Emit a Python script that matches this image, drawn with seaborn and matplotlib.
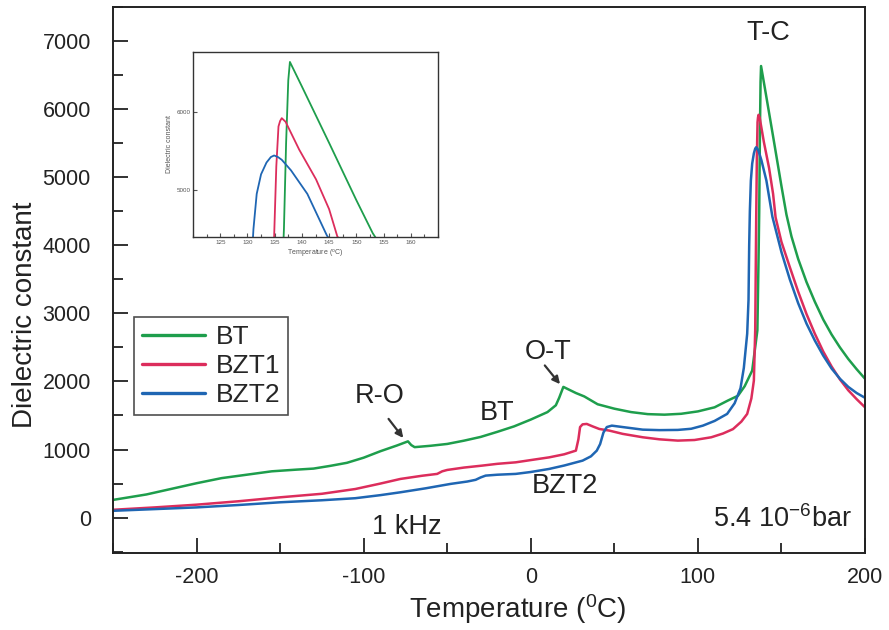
import numpy as np
import pandas as pd
import matplotlib
matplotlib.use("Agg")
import matplotlib.pyplot as plt
from matplotlib.ticker import MultipleLocator
import seaborn as sns

# Temperature sweeps (deg C) and dielectric constant at 1 kHz
bt_temp = [-250, -230, -210, -200, -185, -170, -155, -140, -130, -120,
           -110, -100, -90, -80, -73.5, -71.5, -69.5, -60, -50, -40,
           -30, -20, -10, 0, 10, 15, 17, 19.5, 22, 27,
           32, 40, 50, 60, 70, 80, 90, 100, 110, 118,
           124, 128, 132.5, 135.6, 136.3, 136.7, 137.1, 137.5, 137.8, 140,
           145, 150, 153, 156, 160, 165, 170, 175, 180, 185,
           190, 195, 200]
bt_eps = [260, 340, 450, 505, 580, 630, 680, 705, 720, 760,
          805, 880, 975, 1060, 1120, 1065, 1035, 1055, 1082, 1130,
          1185, 1260, 1340, 1440, 1550, 1650, 1760, 1920, 1890, 1830,
          1780, 1665, 1600, 1550, 1520, 1512, 1525, 1560, 1620, 1720,
          1790, 1930, 2160, 2750, 3800, 4500, 5600, 6400, 6633, 6320,
          5600, 4870, 4450, 4130, 3800, 3460, 3170, 2910, 2690, 2500,
          2330, 2180, 2040]

bzt1_temp = [-250, -225, -200, -175, -150, -125, -105, -90, -78, -65,
             -56, -53, -50, -40, -29, -20, -9, 0, 11, 20,
             27, 28.5, 29.5, 31, 33.5, 37, 41, 47, 55, 67,
             77, 88, 98, 108, 115, 121, 126, 129.5, 132, 133.5,
             134.3, 134.9, 135.3, 135.7, 136.0, 136.3, 137, 139.5, 142.6, 145,
             146.5, 150, 155, 160, 165, 170, 175, 180, 185, 190,
             195, 200]
bzt1_eps = [115, 150, 190, 240, 298, 350, 420, 500, 568, 615,
            642, 680, 700, 735, 764, 790, 812, 845, 885, 930,
            984, 1150, 1330, 1370, 1376, 1340, 1302, 1278, 1230, 1180,
            1150, 1131, 1140, 1180, 1235, 1300, 1410, 1523, 1750, 2012,
            2750, 4400, 5300, 5810, 5880, 5916, 5870, 5515, 5135, 4755,
            4409, 4050, 3680, 3320, 2990, 2700, 2440, 2220, 2030, 1870,
            1740, 1620]

bzt2_temp = [-250, -225, -200, -175, -150, -125, -105, -90, -78, -63,
             -48, -38, -33, -30, -27, -20, -9, 0, 11, 20,
             31, 36, 39.5, 41.5, 43.5, 45.5, 48.5, 55, 67, 77,
             88, 96, 103, 110, 117.5, 122, 125.5, 127.5, 129.5, 130.3,
             130.7, 131.1, 131.7, 132.5, 133.5, 134.3, 134.9, 135.6, 136.3, 138,
             141, 144.6, 150, 155, 160, 165, 170, 175, 180, 185,
             190, 195, 200]
bzt2_eps = [100, 125, 150, 185, 225, 255, 285, 330, 372, 430,
            495, 530, 555, 590, 617, 630, 642, 670, 715, 765,
            837, 900, 984, 1080, 1250, 1330, 1351, 1330, 1292, 1285,
            1288, 1305, 1351, 1420, 1523, 1680, 1900, 2200, 2700, 3200,
            4000, 4500, 4950, 5200, 5350, 5420, 5440, 5420, 5385, 5250,
            4950, 4418, 3900, 3500, 3150, 2850, 2600, 2380, 2190, 2040,
            1920, 1830, 1760]

samples = ["BT", "BZT1", "BZT2"]
colors = {"BT": "#1e9e4c", "BZT1": "#dc2d5c", "BZT2": "#1f66b3"}

df = pd.concat([
    pd.DataFrame({"Temperature": bt_temp, "eps": bt_eps, "sample": "BT"}),
    pd.DataFrame({"Temperature": bzt1_temp, "eps": bzt1_eps, "sample": "BZT1"}),
    pd.DataFrame({"Temperature": bzt2_temp, "eps": bzt2_eps, "sample": "BZT2"}),
], ignore_index=True)

sns.set_style("white")
plt.rcParams["font.family"] = ["Liberation Sans", "DejaVu Sans"]
plt.rcParams["mathtext.fontset"] = "custom"
plt.rcParams["mathtext.rm"] = "Liberation Sans"
plt.rcParams["mathtext.it"] = "Liberation Sans:italic"
plt.rcParams["mathtext.bf"] = "Liberation Sans:bold"
plt.rcParams["axes.unicode_minus"] = False

txt = "#222222"
fig = plt.figure(figsize=(8.89, 6.30), dpi=100)
ax = fig.add_axes([0.1271, 0.1222, 0.8459, 0.8667])

sns.lineplot(data=df, x="Temperature", y="eps", hue="sample", hue_order=samples,
             palette=colors, estimator=None, sort=False, linewidth=1.8, ax=ax)

ax.set_xlim(-250, 200)
ax.set_ylim(-520, 7500)
ax.xaxis.set_major_locator(MultipleLocator(100))
ax.xaxis.set_minor_locator(MultipleLocator(50))
ax.yaxis.set_major_locator(MultipleLocator(1000))
ax.yaxis.set_minor_locator(MultipleLocator(500))
ax.tick_params(which="both", direction="in", bottom=True, left=True,
               top=False, right=False, width=1.3, colors="#222222")
ax.tick_params(which="major", length=11, labelsize=15.5, labelcolor=txt)
ax.tick_params(which="minor", length=7)
ax.tick_params(axis="x", pad=10)
ax.tick_params(axis="y", pad=16)
for s in ax.spines.values():
    s.set_linewidth(1.4)
    s.set_color("#222222")
ax.set_xlabel("Temperature ($^{\\rm 0}$C)", fontsize=20, color=txt)
ax.set_ylabel("Dielectric constant", fontsize=20, color=txt)
ax.xaxis.set_label_coords(0.5386, -0.072)
ax.yaxis.set_label_coords(-0.10, 0.436)

leg = ax.legend(loc="upper left", bbox_to_anchor=(134 / 889, 1 - 317 / 630),
                bbox_transform=fig.transFigure, borderaxespad=0, fontsize=19,
                frameon=True, fancybox=False, edgecolor="#222222",
                handlelength=2.4, handletextpad=0.4, labelspacing=0.2,
                borderpad=0.3, title=None)
leg.get_frame().set_linewidth(1.2)
for line in leg.get_lines():
    line.set_linewidth(2.4)

# phase-transition labels
fs = 19.5
ax.text(142, 7120, "T-C", fontsize=fs, color=txt, ha="center", va="center")
ax.text(10.2, 2430, "O-T", fontsize=fs, color=txt, ha="center", va="center")
ax.text(-90.7, 1790, "R-O", fontsize=fs, color=txt, ha="center", va="center")
ax.text(-20.4, 1532, "BT", fontsize=fs, color=txt, ha="center", va="center")
ax.text(20.4, 460, "BZT2", fontsize=fs, color=txt, ha="center", va="center")
ax.text(-73.9, -142, "1 kHz", fontsize=fs, color=txt, ha="center", va="center")
ax.text(150.8, -15, "5.4 10$^{-6}$bar", fontsize=fs, color=txt, ha="center", va="center")
arrow = dict(arrowstyle="-|>", color="#333333", lw=1.6, mutation_scale=11,
             shrinkA=0, shrinkB=0)
ax.annotate("", xy=(17.5, 1960), xytext=(8.4, 2235), arrowprops=arrow)
ax.annotate("", xy=(-76.3, 1170), xytext=(-85.1, 1450), arrowprops=arrow)

# zoom on the Curie peaks
ins = fig.add_axes([0.2171, 0.6238, 0.2756, 0.2937])
sns.lineplot(data=df, x="Temperature", y="eps", hue="sample", hue_order=samples,
             palette=colors, estimator=None, sort=False, linewidth=1.3,
             legend=False, ax=ins)
ins.set_xlim(120, 165)
ins.set_ylim(4400, 6760)
ins.xaxis.set_minor_locator(MultipleLocator(2.5))
ins.set_xticks(np.arange(125, 161, 5))
ins.set_yticks([5000, 6000])
ins.tick_params(which="both", direction="in", bottom=True, left=True,
                top=False, right=False, labelsize=4.5, colors="#555555",
                length=3, width=0.8, pad=2)
ins.tick_params(which="minor", length=2)
for s in ins.spines.values():
    s.set_linewidth(1.0)
    s.set_color("#333333")
ins.set_xlabel("Temperature ($^{\\rm o}$C)", fontsize=5, color="#555555", labelpad=2)
ins.set_ylabel("Dielectric constant", fontsize=5, color="#555555", labelpad=2)

fig.savefig("out.png", dpi=100)
